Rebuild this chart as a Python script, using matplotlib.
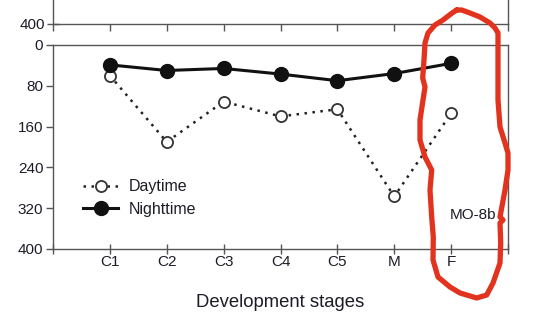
import matplotlib
matplotlib.use("Agg")
import matplotlib.pyplot as plt
from matplotlib.lines import Line2D

plt.rcParams['font.family'] = ['Liberation Sans', 'DejaVu Sans']

stages = ["C1", "C2", "C3", "C4", "C5", "M", "F"]
daytime = [60, 190, 111, 140, 126, 297, 134]
nighttime = [39, 50, 46, 57, 70, 56, 36]
yticks = [0, 80, 160, 240, 320, 400]

W, H = 534, 326
fig = plt.figure(figsize=(W / 100, H / 100), dpi=100)

def fx(px):
    return px / W

def fy(py):
    return 1 - py / H

txt = '#1c1c28'
axcol = '#555555'

# main axes
ax = fig.add_axes([fx(53), fy(249), fx(508) - fx(53), fy(45) - fy(249)])
xs = list(range(1, len(stages) + 1))
ax.plot(xs, daytime, linestyle=(0, (1, 2.2)), color='#222222', linewidth=1.8,
        marker='o', markersize=8, markerfacecolor='white', markeredgecolor='#333333',
        markeredgewidth=1.3, label='Daytime', zorder=3)
ax.plot(xs, nighttime, linestyle='-', color='#111111', linewidth=2.2,
        marker='o', markersize=10, markerfacecolor='#111111', markeredgecolor='#111111',
        label='Nighttime', zorder=4)
ax.set_xlim(0, 8)
ax.set_ylim(400, 0)
ax.set_yticks(yticks)
ax.set_xticks(range(0, 9))
ax.set_xticklabels([''] + stages + [''])
ax.tick_params(axis='x', direction='inout', length=7, width=1, color=axcol,
               labelsize=11, labelcolor=txt, pad=1)
ax.tick_params(axis='y', direction='out', length=5, width=1, color=axcol,
               labelsize=11, labelcolor=txt, pad=2)
for s in ax.spines.values():
    s.set_color(axcol)
    s.set_linewidth(1)
ax.set_xlabel('Development stages', fontsize=13.3, color=txt, labelpad=18)
ax.text(6.97, 333, 'MO-8b', fontsize=11, color=txt, ha='left', va='center')
leg = ax.legend(loc='center left', bbox_to_anchor=(0.066, 0.25), frameon=False,
                fontsize=11.5, handlelength=2.2, handletextpad=0.65,
                labelspacing=0.45, borderaxespad=0, borderpad=0)
for t in leg.get_texts():
    t.set_color(txt)

# top partial panel
ax2 = fig.add_axes([fx(53), fy(23.5), fx(508) - fx(53), 0.25])
ax2.set_xlim(0, 8)
ax2.set_ylim(400, 0)
ax2.set_yticks([400])
ax2.set_xticks(range(0, 9))
ax2.set_xticklabels([])
ax2.tick_params(axis='x', direction='out', length=5, width=1, color=axcol)
ax2.tick_params(axis='y', direction='inout', length=8, width=1, color=axcol,
                labelsize=11, labelcolor=txt, pad=2)
ax2.spines['top'].set_visible(False)
for s in ax2.spines.values():
    s.set_color(axcol)
    s.set_linewidth(1)

# red hand-drawn loop
path_px = [(456.7, 10), (451.7, 13.3), (443, 20), (435, 25), (428, 33), (425, 43),
           (424, 60), (422.7, 78), (425, 87), (423, 100), (420, 120), (420, 140),
           (425, 157), (431.7, 170), (430, 190), (431.7, 217), (433.3, 237),
           (433, 260), (438, 277), (450, 287), (460, 293), (476.7, 298),
           (486.7, 295), (493, 283), (500, 263), (500.7, 243), (500, 223),
           (503, 220), (500, 217), (505, 190), (508, 170), (508, 153),
           (505, 143), (500, 127), (498, 100), (498, 33), (495, 28), (490, 23),
           (480, 17), (470, 13), (461.7, 10), (456.7, 10)]
px = [fx(p[0]) for p in path_px]
py = [fy(p[1]) for p in path_px]
fig.add_artist(Line2D(px, py, transform=fig.transFigure, color='#e2331f',
                      linewidth=3.8, solid_joinstyle='round', solid_capstyle='round',
                      zorder=10, clip_on=False))

fig.savefig('out.png', dpi=100)
